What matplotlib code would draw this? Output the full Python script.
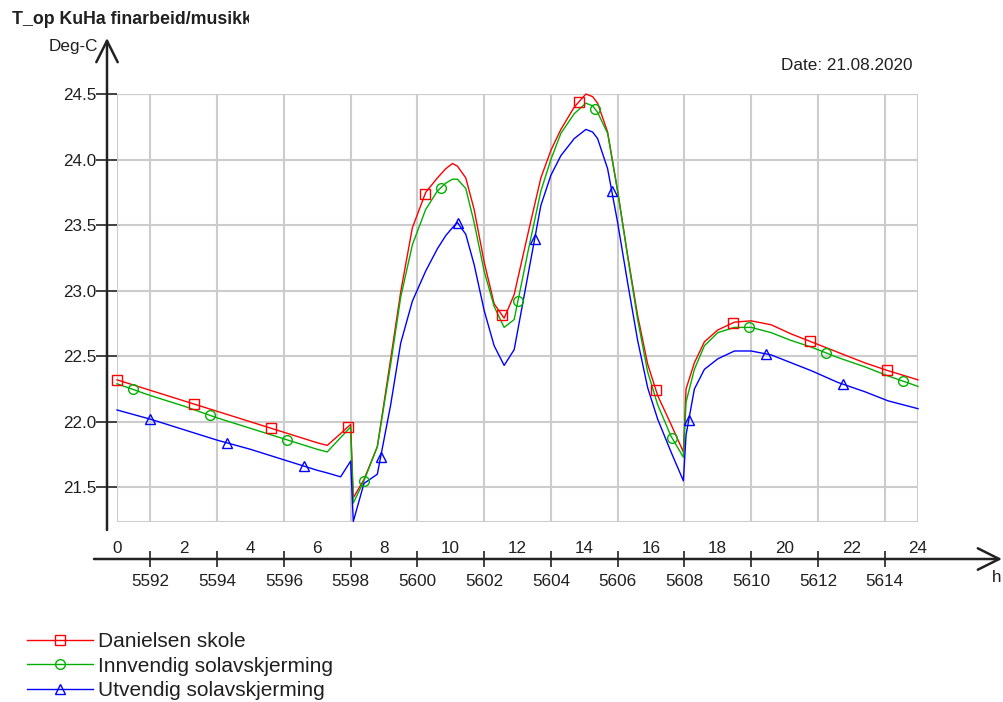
import matplotlib
matplotlib.use('Agg')
import matplotlib.pyplot as plt
import numpy as np
from matplotlib.lines import Line2D
from matplotlib.patches import Rectangle
from matplotlib.transforms import Bbox, blended_transform_factory

plt.rcParams['font.family'] = ['Liberation Sans', 'DejaVu Sans']

# timeline (hours of the day) and simulation hour of day start
hours = [0, 1, 2, 3, 4, 5, 6, 6.3, 6.7, 7.0, 7.08, 7.4, 7.8, 8.2, 8.5, 8.85,
         9.25, 9.6, 9.85, 10.05, 10.2, 10.45, 10.7, 11.0, 11.3, 11.6, 11.9, 12.3,
         12.7, 13.0, 13.3, 13.7, 14.05, 14.25, 14.4, 14.7, 15.0, 15.3, 15.6, 15.9,
         16.2, 16.6, 16.97, 17.05, 17.3, 17.6, 18.0, 18.5, 19.0, 19.6, 20.2,
         20.8, 21.6, 22.4, 23.1, 24]
sim_hour0 = 5591

danielsen = [22.32, 22.24, 22.16, 22.08, 22.00, 21.92, 21.84, 21.82, 21.91, 21.98,
             21.42, 21.56, 21.81, 22.48, 22.99, 23.48, 23.75, 23.86, 23.93, 23.97,
             23.95, 23.86, 23.62, 23.22, 22.90, 22.79, 22.97, 23.42, 23.86, 24.07,
             24.23, 24.40, 24.50, 24.48, 24.43, 24.21, 23.76, 23.27, 22.81, 22.44,
             22.20, 21.98, 21.77, 22.25, 22.45, 22.61, 22.70, 22.76, 22.77, 22.74,
             22.67, 22.61, 22.53, 22.45, 22.39, 22.32]
innvendig = [22.29, 22.20, 22.12, 22.03, 21.95, 21.87, 21.79, 21.77, 21.88, 21.96,
             21.38, 21.55, 21.81, 22.44, 22.95, 23.35, 23.62, 23.76, 23.82, 23.85,
             23.85, 23.78, 23.52, 23.15, 22.88, 22.72, 22.78, 23.28, 23.76, 24.00,
             24.20, 24.35, 24.43, 24.41, 24.36, 24.20, 23.76, 23.26, 22.78, 22.38,
             22.13, 21.89, 21.73, 22.15, 22.40, 22.58, 22.68, 22.72, 22.72, 22.68,
             22.62, 22.57, 22.49, 22.42, 22.35, 22.27]
utvendig = [22.09, 22.02, 21.94, 21.86, 21.79, 21.71, 21.63, 21.61, 21.58, 21.70,
            21.24, 21.53, 21.60, 22.13, 22.60, 22.92, 23.15, 23.32, 23.42, 23.48,
            23.52, 23.43, 23.20, 22.85, 22.58, 22.43, 22.55, 23.10, 23.65, 23.88,
            24.03, 24.16, 24.23, 24.21, 24.16, 23.93, 23.52, 23.06, 22.62, 22.26,
            22.02, 21.77, 21.55, 21.90, 22.25, 22.40, 22.48, 22.54, 22.54, 22.51,
            22.45, 22.39, 22.30, 22.23, 22.16, 22.10]

labels = ['Danielsen skole', 'Innvendig solavskjerming', 'Utvendig solavskjerming']
colors = ['#ff0000', '#00b000', '#0000ff']
markers = ['s', 'o', '^']
marker_start = [0.0, 0.48, 0.98]
marker_step = 2.307

hour_ticks = list(range(0, 25, 2))
sim_ticks = list(range(5592, 5615, 2))
y_ticks = [21.5, 22.0, 22.5, 23.0, 23.5, 24.0, 24.5]

fig = plt.figure(figsize=(10.04, 7.02), dpi=100)
ax = fig.add_axes([117 / 1004, (702 - 521.7) / 702, (918 - 117) / 1004, (521.7 - 94) / 702])
ax.set_xlim(0, 24)
ax.set_ylim(21.238, 24.5)

txt = '#202020'
for series, c, m, s0 in zip([danielsen, innvendig, utvendig], colors, markers, marker_start):
    ax.plot(hours, series, color=c, lw=1.0, clip_on=False, zorder=3)
    mh = np.arange(s0, 24.01, marker_step)
    ax.plot(mh, np.interp(mh, hours, series), ls='none', marker=m, ms=7,
            mfc='none', mec=c, mew=1.0, clip_on=False, zorder=4)

# grid box
for sp in ax.spines.values():
    sp.set_visible(False)
ax.add_patch(Rectangle((0, 0), 1, 1, transform=ax.transAxes, fill=False,
                       ec='#cccccc', lw=1.5, zorder=1))
ax.grid(True, color='#cccccc', lw=1.5, zorder=1)

# x axis: simulation hours below the line
ax.set_xticks([t - sim_hour0 for t in sim_ticks])
ax.set_xticklabels([str(t) for t in sim_ticks])
ax.spines['bottom'].set_position(('outward', 26.9))
ax.tick_params(axis='x', direction='inout', length=11, width=1.3, color='#333333',
               labelsize=12.3, labelcolor=txt, pad=5)

# y axis
ax.set_yticks(y_ticks)
ax.set_yticklabels([f'{v:.1f}' for v in y_ticks])
ax.tick_params(axis='y', direction='out', length=15, width=1.3, color='#333333',
               labelsize=12.3, labelcolor=txt, pad=0)

# hour-of-day labels above the x axis line
bt = blended_transform_factory(ax.transData, ax.transAxes)
for h in hour_ticks:
    ax.text(h, -0.062, str(h), transform=bt, ha='center', va='center',
            fontsize=12.3, color=txt)

# axis arrows
arrow = dict(arrowstyle='->,head_length=0.7,head_width=0.35', lw=1.8,
             color='#222222', mutation_scale=22, shrinkA=0, shrinkB=0)
ax.annotate('', xy=(107, 702 - 38), xytext=(107, 702 - 530),
            xycoords='figure pixels', textcoords='figure pixels', arrowprops=arrow)
ax.annotate('', xy=(1002, 702 - 559), xytext=(94, 702 - 559),
            xycoords='figure pixels', textcoords='figure pixels', arrowprops=arrow)

# texts
title = fig.text(12 / 1004, 1 - 20 / 702, 'T_op KuHa finarbeid/musikk', fontsize=12.8,
                 fontweight='bold', color=txt, ha='left', va='center')
title.set_clip_box(Bbox.from_extents(0, 0, 249, 702))
title.set_clip_on(True)
fig.text(98 / 1004, 1 - 47 / 702, 'Deg-C', fontsize=12.3, color=txt, ha='right', va='center')
fig.text(913 / 1004, 1 - 65 / 702, 'Date: 21.08.2020', fontsize=12.3, color=txt,
         ha='right', va='center')
fig.text(997 / 1004, 1 - 578 / 702, 'h', fontsize=12.3, color=txt, ha='center', va='center')

# legend
handles = [Line2D([], [], color=c, lw=1.0, marker=m, ms=7, mfc='none', mec=c, mew=1.0)
           for c, m in zip(colors, markers)]
fig.legend(handles, labels, loc='upper left', bbox_to_anchor=(27 / 1004, 1 - 632 / 702),
           frameon=False, fontsize=15, handlelength=3.15, handletextpad=0.25,
           labelspacing=0.27, borderpad=0, borderaxespad=0, labelcolor=txt)

fig.savefig('out.png', dpi=100)
